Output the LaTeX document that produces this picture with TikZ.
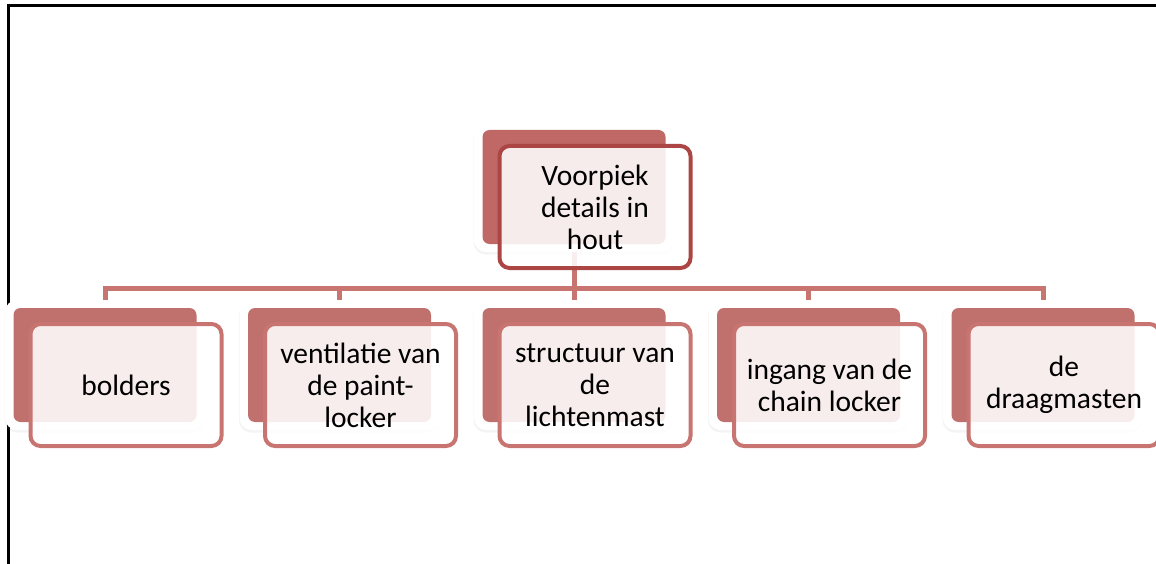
\documentclass[tikz,border=0pt]{standalone}
\usepackage{fontspec}
\setmainfont{Carlito}
\usepackage{tikz}
\usetikzlibrary{positioning,shadows,backgrounds}

\definecolor{rootfill}{HTML}{BF6866}
\definecolor{rootline}{HTML}{AC4644}
\definecolor{leaffill}{HTML}{C0716E}
\definecolor{leafline}{HTML}{C87471}

\begin{document}
\begin{tikzpicture}[
    x=1pt, y=-1pt,
    halo/.style={rectangle, fill=white, rounded corners=12pt,
        minimum width=200pt, minimum height=130pt, inner sep=0pt,
        drop shadow={shadow xshift=-0.5pt, shadow yshift=-2.5pt, opacity=0.09}},
    back/.style={rectangle, fill=leaffill, rounded corners=7pt,
        minimum width=183pt, minimum height=114pt, inner sep=0pt},
    front/.style={rectangle, draw=leafline, line width=4pt, fill=white,
        fill opacity=0.88, text opacity=1, rounded corners=10pt,
        minimum width=191pt, minimum height=122pt, inner sep=0pt,
        align=center, font=\fontsize{29.5}{32}\selectfont,
        xshift=21pt, yshift=-20pt},
    link/.style={draw=leafline, line width=5pt}
]
\useasboundingbox (0,0) rectangle (1156,564);

% page frame
\draw[line width=3pt] (8,564) -- (8,6) -- (1156,6);

% top box
\node[halo] (root-halo) at (574,187) {};
\node[back, fill=rootfill] (root-back) at (root-halo) {};
\node[front, draw=rootline] (root) at (root-back) {Voorpiek\\details in\\hout};

% second row
\node[halo] (bolders-halo) at (105,365) {};
\node[back] (bolders-back) at (bolders-halo) {};
\node[front] (bolders) at (bolders-back) {bolders};

\node[halo] (ventilatie-halo) at (339.5,365) {};
\node[back] (ventilatie-back) at (ventilatie-halo) {};
\node[front] (ventilatie) at (ventilatie-back) {ventilatie van\\de paint-\\locker};

\node[halo] (structuur-halo) at (574,365) {};
\node[back] (structuur-back) at (structuur-halo) {};
\node[front] (structuur) at (structuur-back) {structuur van\\de\\lichtenmast};

\node[halo] (ingang-halo) at (808.5,365) {};
\node[back] (ingang-back) at (ingang-halo) {};
\node[front] (ingang) at (ingang-back) {ingang van de\\chain locker};

\node[halo] (draagmasten-halo) at (1043,365) {};
\node[back] (draagmasten-back) at (draagmasten-halo) {};
\node[front] (draagmasten) at (draagmasten-back) {de\\draagmasten};

% connectors
\coordinate (bar) at (0,288);
\begin{scope}[on background layer]
\foreach \leaf in {bolders,ventilatie,structuur,ingang,draagmasten}
    \draw[link] (root-back.center) |- (bar -| \leaf-back.center) -- (\leaf-back.center);
\end{scope}

\end{tikzpicture}
\end{document}
